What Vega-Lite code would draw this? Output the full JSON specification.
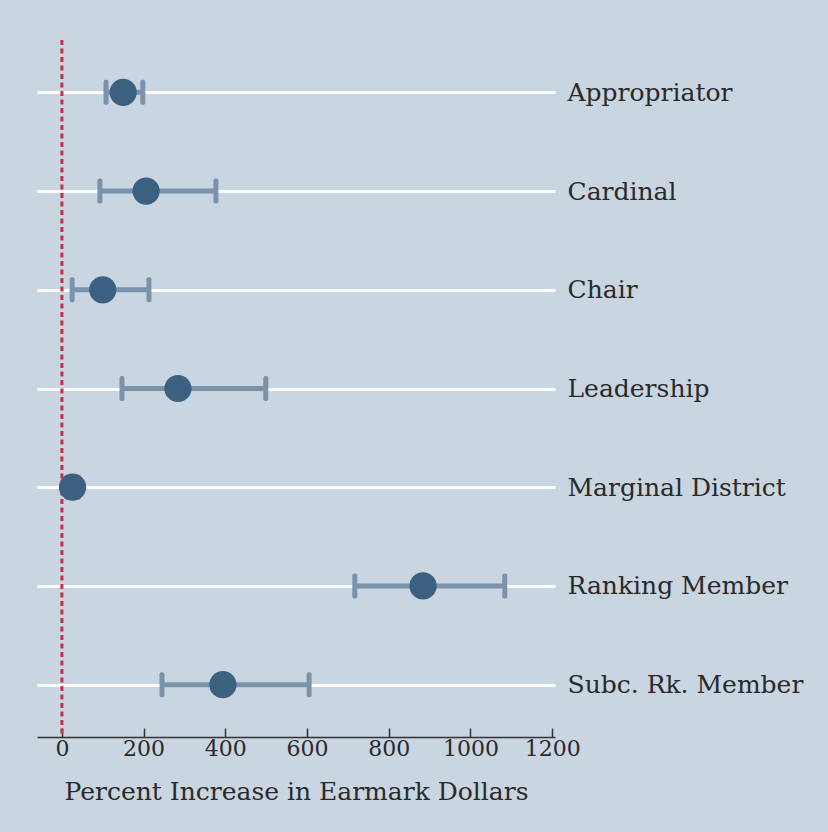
{
  "$schema": "https://vega.github.io/schema/vega-lite/v6.json",
  "autosize": "none",
  "width": 518,
  "height": 697,
  "padding": {"left": 37, "top": 40, "right": 273, "bottom": 95},
  "background": "#c9d5e0",
  "config": {"view": {"stroke": null}},
  "data": {
    "values": [
      {"group": "Appropriator", "est": 150, "lo": 108, "hi": 198},
      {"group": "Cardinal", "est": 206, "lo": 93, "hi": 377},
      {"group": "Chair", "est": 100, "lo": 25, "hi": 213},
      {"group": "Leadership", "est": 284, "lo": 147, "hi": 499},
      {"group": "Marginal District", "est": 26, "lo": 12, "hi": 40},
      {"group": "Ranking Member", "est": 884, "lo": 717, "hi": 1084},
      {"group": "Subc. Rk. Member", "est": 394, "lo": 245, "hi": 605}
    ]
  },
  "encoding": {
    "y": {
      "field": "group",
      "type": "nominal",
      "sort": null,
      "scale": {"type": "point", "padding": 0.53},
      "axis": {
        "orient": "right",
        "title": null,
        "grid": true,
        "gridColor": "#ffffff",
        "gridWidth": 3,
        "domain": false,
        "ticks": false,
        "labelPadding": 12,
        "labelLimit": 0,
        "labelFont": "DejaVu Serif",
        "labelFontSize": 25,
        "labelColor": "#2a2a2a",
        "labelAlign": "left",
        "labelBaseline": "middle"
      }
    }
  },
  "layer": [
    {
      "data": {"values": [{"ref": 0}]},
      "mark": {"type": "rule", "color": "#c42f4b", "strokeWidth": 3, "strokeDash": [5, 3.5]},
      "encoding": {
        "x": {"field": "ref", "type": "quantitative"},
        "y": null
      }
    },
    {
      "mark": {"type": "rule", "color": "#7a93ab", "strokeWidth": 5},
      "encoding": {
        "x": {
          "field": "lo",
          "type": "quantitative",
          "scale": {"domain": [-61, 1207], "nice": false, "zero": false},
          "axis": {
            "values": [0, 200, 400, 600, 800, 1000, 1200],
            "format": "d",
            "grid": false,
            "domainColor": "#333333",
            "domainWidth": 1.5,
            "tickColor": "#333333",
            "tickWidth": 1.5,
            "tickSize": -9,
            "labelPadding": 10,
            "labelFont": "DejaVu Serif",
            "labelFontSize": 22,
            "labelColor": "#2a2a2a",
            "title": "Percent Increase in Earmark Dollars",
            "titleFont": "DejaVu Serif",
            "titleFontSize": 25,
            "titleFontWeight": "normal",
            "titleColor": "#2a2a2a",
            "titlePadding": 20
          }
        },
        "x2": {"field": "hi"}
      }
    },
    {
      "mark": {"type": "tick", "color": "#7a93ab", "thickness": 5, "size": 25, "cornerRadius": 2, "opacity": 1},
      "encoding": {"x": {"field": "lo", "type": "quantitative"}}
    },
    {
      "mark": {"type": "tick", "color": "#7a93ab", "thickness": 5, "size": 25, "cornerRadius": 2, "opacity": 1},
      "encoding": {"x": {"field": "hi", "type": "quantitative"}}
    },
    {
      "mark": {"type": "circle", "color": "#3b6080", "size": 740, "opacity": 1},
      "encoding": {"x": {"field": "est", "type": "quantitative"}}
    }
  ]
}
